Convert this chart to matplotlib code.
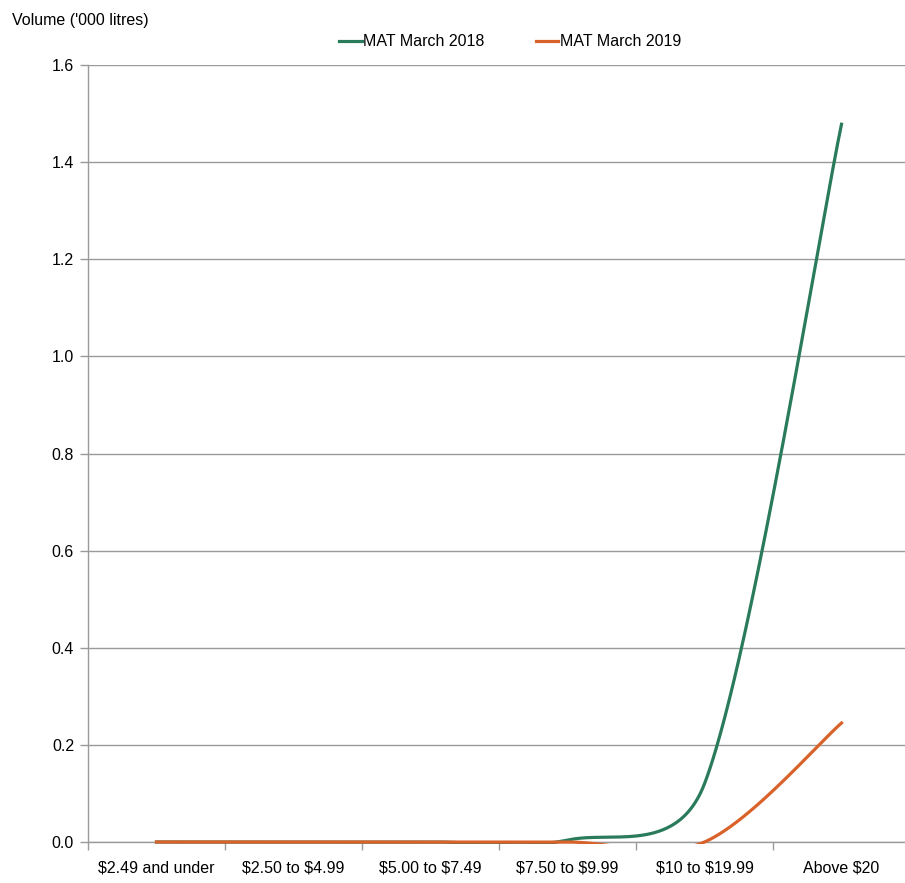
import numpy as np
import matplotlib
matplotlib.use("Agg")
import matplotlib.pyplot as plt
from matplotlib.patches import Rectangle
from matplotlib.ticker import FixedLocator, FormatStrFormatter

plt.rcParams['font.family'] = ['Liberation Sans', 'DejaVu Sans']
plt.rcParams['text.parse_math'] = False

categories = ["$2.49 and under", "$2.50 to $4.99", "$5.00 to $7.49",
              "$7.50 to $9.99", "$10 to $19.99", "Above $20"]
mat_2018 = [0.0, 0.0, 0.0, 0.004, 0.12, 1.478]
mat_2019 = [0.0, 0.0, 0.0, 0.0, 0.0, 0.245]

GREEN = "#2a7a5c"
ORANGE = "#d9622b"
GRID = "#9a9a9a"

W, H = 905, 883
AX_W, AX_H = 822, 777
YMAX = 1.6


def smooth(y, kx, ky, n=100):
    """Cubic Bezier smoothing through the points (screen space).  Tangents follow the
    neighbouring points; a control arm is shortened when its segment is much shorter
    than the adjoining one."""
    y = np.asarray(y, dtype=float)
    P = np.column_stack([np.arange(len(y)) * kx, y * ky])
    m = len(P)
    T = np.array([P[min(i + 1, m - 1)] - P[max(i - 1, 0)] for i in range(m)]) / 6.0
    d = np.linalg.norm(np.diff(P, axis=0), axis=1)

    def scale(seg, adj):
        return min(1.0, np.sqrt(2 * seg / (seg + adj)))

    t = np.linspace(0, 1, n)[:, None]
    pts = []
    for i in range(m - 1):
        s1 = scale(d[i], d[i - 1]) if i > 0 else 1.0
        s2 = scale(d[i], d[i + 1]) if i + 1 < m - 1 else 1.0
        c1 = P[i] + T[i] * s1
        c2 = P[i + 1] - T[i + 1] * s2
        pts.append((1 - t) ** 3 * P[i] + 3 * (1 - t) ** 2 * t * c1
                   + 3 * (1 - t) * t ** 2 * c2 + t ** 3 * P[i + 1])
    pts = np.vstack(pts)
    return pts[:, 0] / kx, pts[:, 1] / ky


fig = plt.figure(figsize=(W / 100, H / 100), dpi=100)
ax = fig.add_axes([88 / W, (H - 842) / H, AX_W / W, AX_H / H])

ax.set_xlim(-0.5, len(categories) - 0.5)
ax.set_ylim(0, YMAX)
kx = AX_W / len(categories)
ky = AX_H / YMAX

# clip region reaching slightly below the baseline so zero-valued runs keep full stroke width
clip = Rectangle((0, -1.6 / AX_H), 1, 1 + 10 / AX_H, transform=ax.transAxes,
                 fill=False, visible=False)
ax.add_patch(clip)

sx, sy = smooth(mat_2018, kx, ky)
g, = ax.plot(sx, sy, color=GREEN, lw=2.3, label="MAT March 2018", zorder=3)
g.set_clip_path(clip)

sx, sy = smooth(mat_2019, kx, ky)
o, = ax.plot(sx, sy, color=ORANGE, lw=2.3, label="MAT March 2019", zorder=4)
o.set_clip_path(clip)

ax.yaxis.set_major_locator(FixedLocator(np.arange(0, 1.61, 0.2)))
ax.yaxis.set_major_formatter(FormatStrFormatter('%.1f'))
ax.grid(axis='y', color=GRID, lw=1.0)
ax.set_axisbelow(True)

ax.set_xticks(np.arange(len(categories)))
ax.set_xticklabels(categories)
ax.set_xticks(np.arange(-0.5, len(categories)), minor=True)
ax.tick_params(axis='x', which='major', length=0, pad=13, labelsize=11.5)
ax.tick_params(axis='x', which='minor', length=6, color=GRID, width=1, direction='out')
ax.tick_params(axis='y', length=6, color=GRID, width=1, pad=4, labelsize=11.5)

for s in ['top', 'right']:
    ax.spines[s].set_visible(False)
for s in ['left', 'bottom']:
    ax.spines[s].set_color(GRID)
    ax.spines[s].set_linewidth(1.0)

fig.text(12 / W, 1 - 20 / H, "Volume ('000 litres)", fontsize=11.5, va='center', ha='left')

leg = fig.legend(loc='center', bbox_to_anchor=(510 / W, 1 - 42 / H), ncol=2,
                 frameon=False, fontsize=11.5, handlelength=1.4, handletextpad=0.1,
                 columnspacing=3.2)

fig.savefig("out.png", dpi=100)
